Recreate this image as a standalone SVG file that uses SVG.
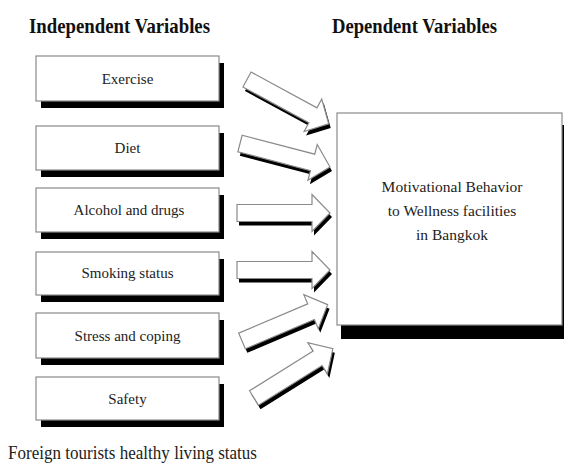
<svg xmlns="http://www.w3.org/2000/svg" width="564" height="465" viewBox="0 0 564 465" font-family="Liberation Serif, serif">
<style>
.bg{fill:#fff}
.box{fill:#fff;stroke:#8a8a8a;stroke-width:1.2}
.sh{fill:#000}
.t{fill:#222;text-anchor:middle}
.lbl{font-size:15px}
.h{font-size:21px;font-weight:bold;fill:#111}
.arr{fill:#fff;stroke:#8a8a8a;stroke-width:1.2}
.arrsh{fill:#000}
</style>
<defs>
<path id="ah" d="M0,-8.5 H75 V-18.5 L93,0 L75,18.5 V8.5 H0 Z"/>
</defs>
<rect class="bg" width="564" height="465"/>
<text class="t h" x="119.5" y="33" textLength="181" lengthAdjust="spacingAndGlyphs">Independent Variables</text>
<text class="t h" x="414.5" y="33" textLength="165" lengthAdjust="spacingAndGlyphs">Dependent Variables</text>

<g id="n-exercise"><rect class="sh" x="41" y="63" width="183" height="45"/><rect class="box" x="36" y="56" width="183" height="45"/><text class="t lbl" x="127.5" y="84">Exercise</text></g>
<g id="n-diet"><rect class="sh" x="41" y="133" width="183" height="44"/><rect class="box" x="36" y="126" width="183" height="44"/><text class="t lbl" x="127.5" y="153">Diet</text></g>
<g id="n-alcohol"><rect class="sh" x="41" y="195" width="183" height="44"/><rect class="box" x="36" y="188" width="183" height="44"/><text class="t lbl" x="129" y="215">Alcohol and drugs</text></g>
<g id="n-smoking"><rect class="sh" x="41" y="259" width="183" height="43"/><rect class="box" x="36" y="252" width="183" height="43"/><text class="t lbl" x="127.5" y="278">Smoking status</text></g>
<g id="n-stress"><rect class="sh" x="41" y="320" width="183" height="45"/><rect class="box" x="36" y="313" width="183" height="45"/><text class="t lbl" x="127.5" y="341">Stress and coping</text></g>
<g id="n-safety"><rect class="sh" x="41" y="384" width="183" height="43"/><rect class="box" x="36" y="377" width="183" height="43"/><text class="t lbl" x="127.5" y="404">Safety</text></g>

<g id="n-motivation"><rect class="sh" x="341" y="125" width="230" height="214"/><rect class="box" x="337" y="113" width="225" height="212"/>
<text class="t" font-size="15.5" x="452" y="192">Motivational Behavior</text>
<text class="t" font-size="15.5" x="452" y="216">to Wellness facilities</text>
<text class="t" font-size="15.5" x="452" y="240">in Bangkok</text></g>

<g id="connectors">
<g transform="translate(249,83.5) rotate(28.5)"><use href="#ah" class="arrsh"/></g>
<g transform="translate(247,79.5) rotate(28.5)"><use href="#ah" class="arr"/></g>
<g transform="translate(242,147.5) rotate(14.6)"><use href="#ah" class="arrsh"/></g>
<g transform="translate(240,143.5) rotate(14.6)"><use href="#ah" class="arr"/></g>
<g transform="translate(239,217) rotate(0)"><use href="#ah" class="arrsh"/></g>
<g transform="translate(237,213) rotate(0)"><use href="#ah" class="arr"/></g>
<g transform="translate(239,274) rotate(0)"><use href="#ah" class="arrsh"/></g>
<g transform="translate(237,270) rotate(0)"><use href="#ah" class="arr"/></g>
<g transform="translate(244,345) rotate(-23)"><use href="#ah" class="arrsh"/></g>
<g transform="translate(242,341) rotate(-23)"><use href="#ah" class="arr"/></g>
<g transform="translate(256,402) rotate(-32)"><use href="#ah" class="arrsh"/></g>
<g transform="translate(254,398) rotate(-32)"><use href="#ah" class="arr"/></g>
</g>

<text class="t" font-size="18" style="text-anchor:start" x="8" y="459" textLength="249" lengthAdjust="spacingAndGlyphs">Foreign tourists healthy living status</text>
</svg>
